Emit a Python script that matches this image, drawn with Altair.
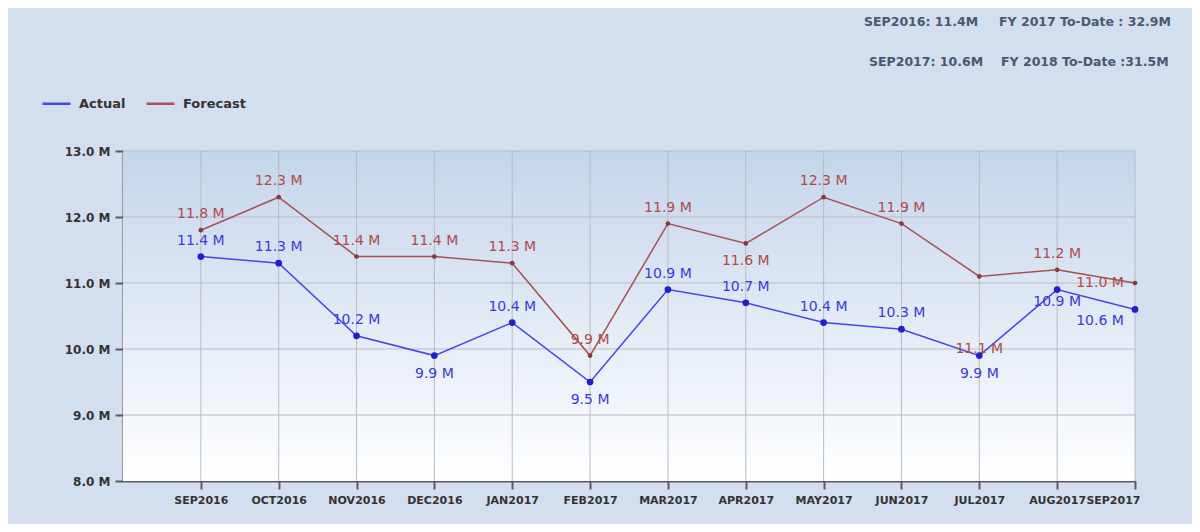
import altair as alt
import pandas as pd

months = ["SEP2016", "OCT2016", "NOV2016", "DEC2016", "JAN2017", "FEB2017", "MAR2017",
          "APR2017", "MAY2017", "JUN2017", "JUL2017", "AUG2017", "SEP2017"]
actual = [11.4, 11.3, 10.2, 9.9, 10.4, 9.5, 10.9, 10.7, 10.4, 10.3, 9.9, 10.9, 10.6]
forecast = [11.8, 12.3, 11.4, 11.4, 11.3, 9.9, 11.9, 11.6, 12.3, 11.9, 11.1, 11.2, 11.0]
actual_label_side = ["above", "above", "above", "below", "above", "below", "above",
                     "above", "above", "above", "below", "below_near", "left_below"]
forecast_label_side = ["above", "above", "above", "above", "above", "above", "above",
                       "below", "above", "above", "below_far", "above", "left"]
y_ticks = [8, 9, 10, 11, 12, 13]
header_left = ["SEP2016: 11.4M", "SEP2017: 10.6M"]
header_right = ["FY 2017 To-Date : 32.9M", "FY 2018 To-Date :31.5M"]

rows = []
for i, m in enumerate(months):
    rows.append({"idx": i + 1, "month": m, "series": "Actual", "value": actual[i],
                 "side": actual_label_side[i], "label": f"{actual[i]:.1f} M"})
    rows.append({"idx": i + 1, "month": m, "series": "Forecast", "value": forecast[i],
                 "side": forecast_label_side[i], "label": f"{forecast[i]:.1f} M"})
df = pd.DataFrame(rows)

W, H = 1012, 330
FONT = "DejaVu Sans"
LINE_COLORS = {"Actual": "#4646e6", "Forecast": "#a65252"}
POINT_COLORS = {"Actual": "#1f1fd0", "Forecast": "#8a3a3a"}
TEXT_COLORS = {"Actual": "#3a3ad8", "Forecast": "#b04a4a"}
GRID = "#b8bcc4"

label_arr = "[''," + ",".join(f"'{m}'" for m in months) + "]"
x_scale = alt.Scale(domain=[0, 13], nice=False, zero=False)
y_scale = alt.Scale(domain=[8, 13], nice=False, zero=False)
x_enc = alt.X("idx:Q", scale=x_scale,
              axis=alt.Axis(values=list(range(1, 14)), labelExpr=f"{label_arr}[datum.value]",
                            title=None, labelPadding=5, labelOverlap=False, grid=False,
                            labelFontSize=11, labelFlush=True, labelFlushOffset=5))
y_enc = alt.Y("value:Q", scale=y_scale,
              axis=alt.Axis(values=y_ticks,
                            labelExpr="format(datum.value, '.1f') + ' M'",
                            title=None, labelPadding=5, grid=False))

base = alt.Chart(df)

bg = alt.Chart(pd.DataFrame({"a": [0]})).mark_rect(
    fill=alt.LinearGradient(gradient="linear",
                            stops=[alt.GradientStop(color="#c4d5eb", offset=0),
                                   alt.GradientStop(color="#ffffff", offset=1)],
                            x1=0, x2=0, y1=0, y2=1)
).encode(x=alt.value(0), x2=alt.value(W), y=alt.value(0), y2=alt.value(H))

vgrid = alt.Chart(pd.DataFrame({"idx": list(range(1, 14))})).mark_rule(
    color=GRID, strokeWidth=1).encode(
    x=alt.X("idx:Q", scale=x_scale), y=alt.value(0), y2=alt.value(H))
hgrid = alt.Chart(pd.DataFrame({"value": y_ticks[1:]})).mark_rule(
    color=GRID, strokeWidth=1).encode(
    y=alt.Y("value:Q", scale=y_scale), x=alt.value(0), x2=alt.value(W))

lines = base.mark_line(strokeWidth=1.5).encode(
    x=x_enc, y=y_enc,
    color=alt.Color("series:N",
                    scale=alt.Scale(domain=["Actual", "Forecast"],
                                    range=[LINE_COLORS["Actual"], LINE_COLORS["Forecast"]]),
                    legend=alt.Legend(orient="none", legendX=-82, legendY=-63,
                                      direction="horizontal", title=None,
                                      symbolType="stroke", symbolSize=784,
                                      symbolStrokeWidth=2.5, labelFont=FONT,
                                      labelFontSize=13, labelFontWeight="bold",
                                      labelColor="#333333", columnPadding=15,
                                      labelOffset=7)),
    detail="series:N")

points = []
for s, size in [("Actual", 45), ("Forecast", 22)]:
    points.append(base.transform_filter(alt.datum.series == s).mark_point(
        filled=True, size=size, opacity=1, color=POINT_COLORS[s]).encode(x=x_enc, y=y_enc))

offsets = {"above": (0, -16), "below": (0, 18), "below_near": (0, 12),
           "below_far": (0, 73), "left": (-35, 0), "left_below": (-35, 12)}
labels = []
for s in ["Actual", "Forecast"]:
    for side, (dx, dy) in offsets.items():
        labels.append(base.transform_filter(
            (alt.datum.series == s) & (alt.datum.side == side)).mark_text(
            font=FONT, fontSize=14, color=TEXT_COLORS[s], dx=dx, dy=dy,
            baseline="middle", align="center").encode(x=x_enc, y=y_enc, text="label:N"))

one = pd.DataFrame({"a": [0]})
headers = []
for txt, xp, yp in [(header_left[0], 741, -129), (header_right[0], 876, -129),
                    (header_left[1], 746, -89), (header_right[1], 878, -89)]:
    headers.append(alt.Chart(one).mark_text(
        font=FONT, fontSize=12.5, fontWeight="bold", color="#4a5870",
        align="left", baseline="middle").encode(
        x=alt.value(xp), y=alt.value(yp), text=alt.value(txt)))

chart = alt.layer(bg, vgrid, hgrid, lines, *points, *labels, *headers).properties(
    width=W, height=H,
    autosize=alt.AutoSizeParams(type="none"),
    padding={"left": 115, "top": 143, "right": 57, "bottom": 43},
    background="#d3dfee",
).configure_view(stroke=None).configure_axis(
    domainColor="#5a5a5a", domainWidth=2, tickColor="#5a5a5a", tickWidth=2, tickSize=8,
    labelFont=FONT, labelFontSize=12, labelFontWeight="bold", labelColor="#333333")

chart.save("out.html", embed_options={"renderer": "svg", "actions": False})
